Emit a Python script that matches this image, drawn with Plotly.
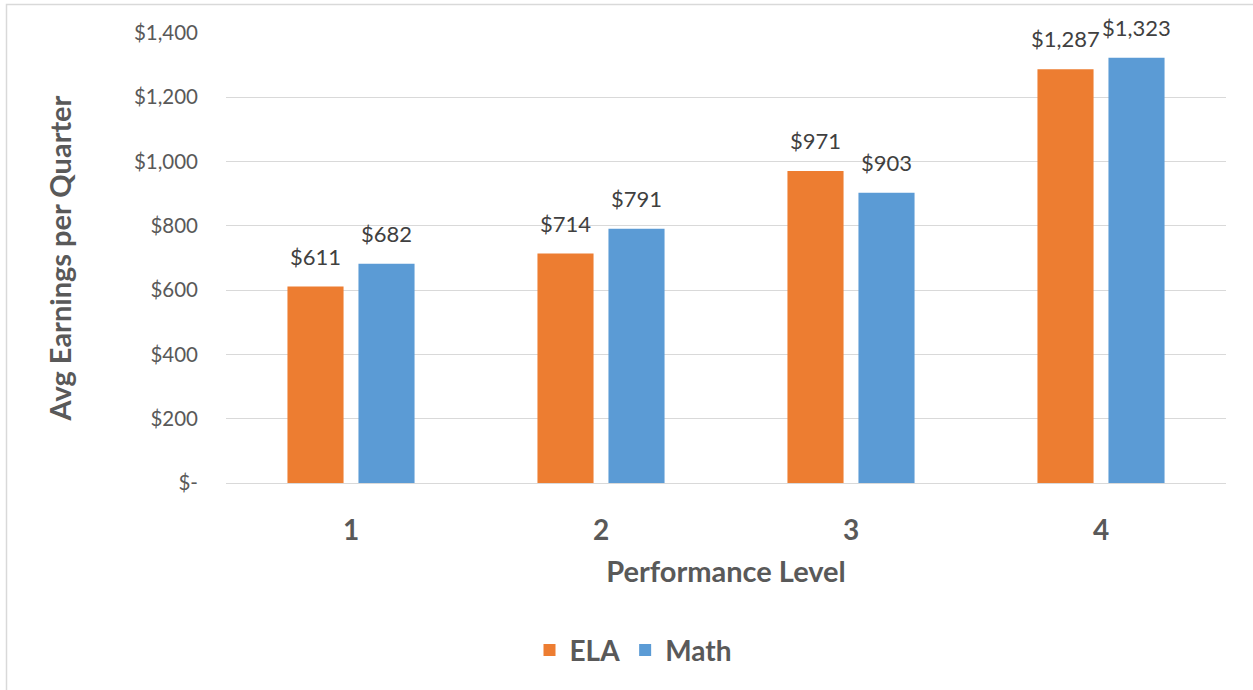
import plotly.graph_objects as go

levels = ["1", "2", "3", "4"]
ela = [611, 714, 971, 1287]
math_scores = [682, 791, 903, 1323]
y_ticks = [0, 200, 400, 600, 800, 1000, 1200, 1400]
y_tick_text = ["$-", "$200", "$400", "$600", "$800", "$1,000", "$1,200", "$1,400"]

FONT = "Lato, Carlito, Calibri, sans-serif"
GRAY = "#595959"
BAR_OFFSET_PX = 35.5  # half the distance between the two bars in a group


def money(v):
    return "${:,}".format(v)


fig = go.Figure()
fig.add_trace(go.Bar(
    name="ELA", x=levels, y=ela,
    marker=dict(color="#ed7d31", line=dict(width=0)),
))
fig.add_trace(go.Bar(
    name="Math", x=levels, y=math_scores,
    marker=dict(color="#5b9bd5", line=dict(width=0)),
))

# value labels above each bar (category positions addressed by index)
annotations = []
for series, shift in ((ela, -BAR_OFFSET_PX), (math_scores, BAR_OFFSET_PX)):
    for idx, v in enumerate(series):
        annotations.append(dict(
            x=idx, y=v, xref="x", yref="y", text=money(v), showarrow=False,
            xanchor="center", yanchor="bottom", xshift=shift, yshift=15,
            font=dict(family=FONT, size=22, color="#404040"),
        ))

fig.update_layout(
    width=1253, height=690,
    margin=dict(l=226, r=27, t=33, b=207),
    paper_bgcolor="white", plot_bgcolor="white",
    barmode="group", bargap=0.432, bargroupgap=0.21,
    font=dict(family=FONT, color=GRAY),
    showlegend=True,
    legend=dict(
        orientation="h", x=0.407, xanchor="center", y=-0.372, yanchor="middle",
        font=dict(family=FONT, size=28, color=GRAY, weight="bold"),
        itemwidth=30, traceorder="normal",
    ),
    xaxis=dict(
        type="category", categoryorder="array", categoryarray=levels,
        range=[-0.5, len(levels) - 0.5],
        tickfont=dict(family=FONT, size=28, color=GRAY, weight="bold"),
        showgrid=False, showline=False, ticks="", ticklabelstandoff=28,
        title=dict(text="Performance Level", standoff=16,
                   font=dict(family=FONT, size=29, color=GRAY, weight="bold")),
    ),
    yaxis=dict(
        range=[0, 1400],
        tickvals=y_ticks, ticktext=y_tick_text,
        tickfont=dict(family=FONT, size=20.5, color=GRAY),
        showgrid=True, gridcolor="#d9d9d9", gridwidth=1.3,
        zeroline=True, zerolinecolor="#d9d9d9", zerolinewidth=1.3,
        showline=False, ticks="", ticklabelstandoff=27,
        title=dict(text="Avg Earnings per Quarter", standoff=53,
                   font=dict(family=FONT, size=29, color=GRAY, weight="bold")),
    ),
    annotations=annotations,
    shapes=[dict(
        type="rect", xref="paper", yref="paper",
        x0=-0.2195, x1=1.2, y0=-0.6, y1=1.0633,
        line=dict(color="#d9d9d9", width=1.5), fillcolor="rgba(0,0,0,0)",
        layer="below",
    )],
)

fig.write_html("out.html")
